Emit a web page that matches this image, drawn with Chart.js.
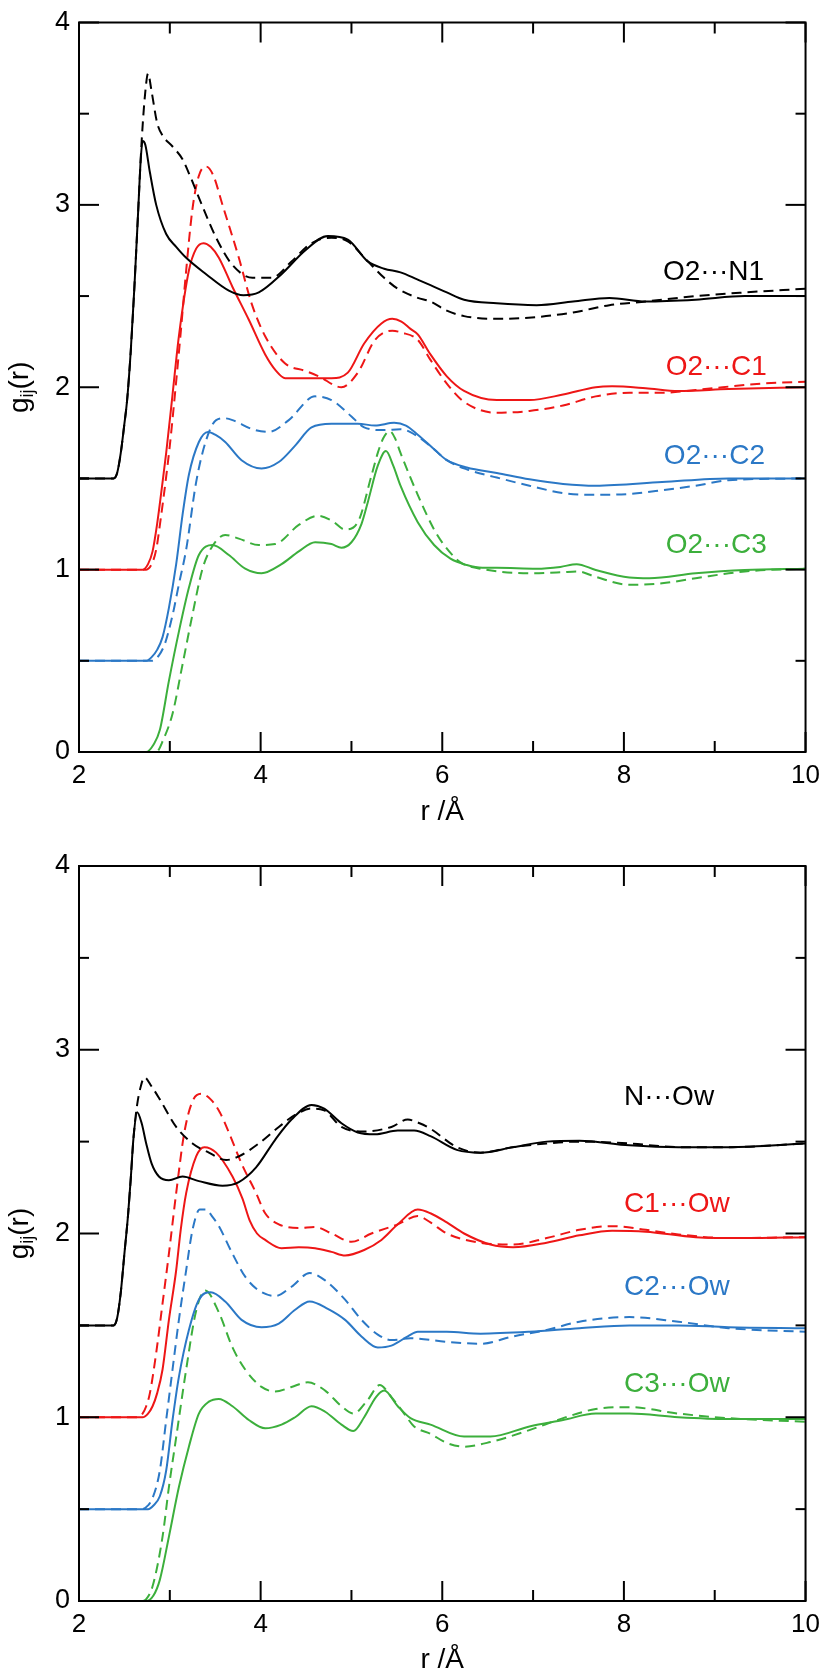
<!DOCTYPE html>
<html>
<head>
<meta charset="utf-8">
<script src="https://cdn.jsdelivr.net/npm/chart.js@4.4.0/dist/chart.umd.min.js"></script>
<style>
  body { margin: 0; background: #fff; }
  #topBox { position: absolute; left: 0; top: 0; width: 831px; height: 840px; }
  #bottomBox { position: absolute; left: 0; top: 840px; width: 831px; height: 839px; }
</style>
</head>
<body>
<div id="topBox"><canvas id="topChart"></canvas></div>
<div id="bottomBox"><canvas id="bottomChart"></canvas></div>
<script>
// tick values
const xMajor = [2, 4, 6, 8, 10];
const xMinor = [3, 5, 7, 9];
const yMajor = [0, 1, 2, 3, 4];
const yMinor = [0.5, 1.5, 2.5, 3.5];

// top panel, [r, g] pairs (curves already shifted)
const o2n1Solid = [[2.0,1.5],[2.38,1.5],[2.42,1.53],[2.46,1.64],[2.50,1.80],[2.53,1.93],[2.57,2.20],[2.61,2.55],[2.65,2.95],[2.68,3.25],[2.70,3.35],[2.73,3.33],[2.78,3.18],[2.85,3.00],[2.96,2.84],[3.07,2.77],[3.18,2.71],[3.40,2.62],[3.65,2.53],[3.81,2.505],[3.98,2.52],[4.23,2.62],[4.49,2.75],[4.74,2.83],[4.96,2.81],[5.18,2.69],[5.36,2.65],[5.54,2.63],[5.73,2.59],[5.87,2.56],[6.05,2.52],[6.24,2.48],[6.60,2.46],[7.04,2.45],[7.44,2.47],[7.84,2.49],[8.24,2.47],[8.79,2.48],[9.33,2.50],[10.0,2.50]];
const o2n1Dashed = [[2.0,1.5],[2.38,1.5],[2.42,1.53],[2.46,1.64],[2.50,1.80],[2.53,1.93],[2.57,2.20],[2.61,2.55],[2.65,2.95],[2.69,3.35],[2.73,3.62],[2.76,3.72],[2.80,3.62],[2.86,3.45],[2.92,3.38],[3.03,3.32],[3.14,3.25],[3.23,3.15],[3.32,3.04],[3.51,2.82],[3.69,2.67],[3.91,2.60],[4.12,2.60],[4.34,2.69],[4.56,2.79],[4.78,2.82],[4.96,2.80],[5.18,2.69],[5.36,2.60],[5.51,2.54],[5.73,2.49],[5.87,2.47],[6.05,2.42],[6.24,2.39],[6.60,2.375],[7.04,2.385],[7.44,2.41],[7.84,2.45],[8.24,2.47],[8.79,2.50],[9.33,2.52],[10.0,2.54]];
const o2c1Solid = [[2.0,1.0],[2.70,1.0],[2.76,1.03],[2.81,1.10],[2.86,1.25],[2.91,1.44],[2.96,1.64],[3.03,1.96],[3.10,2.28],[3.21,2.64],[3.29,2.76],[3.37,2.79],[3.45,2.77],[3.54,2.71],[3.69,2.55],[3.87,2.37],[4.05,2.18],[4.17,2.09],[4.27,2.05],[4.56,2.05],[4.78,2.05],[4.96,2.08],[5.14,2.24],[5.33,2.35],[5.45,2.375],[5.55,2.36],[5.65,2.32],[5.73,2.29],[5.87,2.18],[6.05,2.06],[6.24,1.98],[6.60,1.93],[6.96,1.93],[7.33,1.96],[7.69,2.00],[7.87,2.005],[8.24,1.995],[8.60,1.98],[9.15,1.99],[10.0,2.00]];
const o2c1Dashed = [[2.0,1.0],[2.74,1.0],[2.80,1.03],[2.85,1.11],[2.90,1.28],[2.95,1.47],[3.00,1.68],[3.06,1.98],[3.12,2.30],[3.18,2.64],[3.25,2.98],[3.32,3.16],[3.40,3.21],[3.48,3.16],[3.58,3.00],[3.76,2.71],[3.90,2.46],[4.05,2.28],[4.27,2.13],[4.49,2.09],[4.64,2.06],[4.89,2.00],[5.07,2.08],[5.26,2.26],[5.45,2.31],[5.55,2.30],[5.73,2.26],[5.87,2.15],[6.05,2.02],[6.24,1.92],[6.60,1.86],[6.96,1.87],[7.33,1.90],[7.69,1.95],[8.06,1.97],[8.42,1.97],[8.79,1.985],[9.51,2.02],[10.0,2.03]];
const o2c2Solid = [[2.0,0.5],[2.74,0.5],[2.80,0.52],[2.86,0.56],[2.92,0.63],[2.99,0.79],[3.07,1.03],[3.14,1.30],[3.21,1.52],[3.32,1.70],[3.42,1.755],[3.50,1.74],[3.61,1.70],[3.79,1.60],[4.01,1.555],[4.20,1.59],[4.38,1.68],[4.56,1.78],[4.78,1.80],[5.07,1.80],[5.26,1.79],[5.47,1.805],[5.60,1.79],[5.73,1.74],[5.91,1.66],[6.05,1.60],[6.27,1.56],[6.60,1.53],[6.96,1.495],[7.33,1.47],[7.69,1.46],[8.42,1.48],[9.15,1.50],[10.0,1.50]];
const o2c2Dashed = [[2.0,0.5],[2.80,0.5],[2.88,0.53],[2.95,0.60],[3.03,0.75],[3.10,0.92],[3.18,1.11],[3.29,1.48],[3.40,1.71],[3.51,1.82],[3.60,1.83],[3.69,1.82],[3.91,1.77],[4.09,1.755],[4.31,1.82],[4.60,1.95],[4.78,1.93],[5.00,1.84],[5.14,1.78],[5.36,1.765],[5.54,1.77],[5.73,1.73],[5.91,1.66],[6.05,1.60],[6.27,1.55],[6.60,1.505],[6.96,1.46],[7.33,1.42],[7.69,1.41],[8.06,1.415],[8.42,1.435],[8.79,1.46],[9.15,1.49],[10.0,1.50]];
const o2c3Solid = [[2.0,0.0],[2.74,0.0],[2.82,0.04],[2.89,0.12],[2.99,0.39],[3.10,0.66],[3.21,0.90],[3.32,1.08],[3.47,1.135],[3.65,1.08],[3.83,1.005],[4.01,0.98],[4.23,1.03],[4.42,1.10],[4.60,1.15],[4.78,1.14],[4.89,1.12],[5.00,1.15],[5.11,1.25],[5.18,1.37],[5.29,1.57],[5.38,1.65],[5.46,1.57],[5.54,1.46],[5.73,1.26],[5.91,1.135],[6.09,1.06],[6.27,1.025],[6.44,1.01],[6.60,1.01],[7.04,1.005],[7.30,1.015],[7.48,1.03],[7.69,0.998],[8.06,0.957],[8.28,0.953],[8.79,0.98],[9.33,0.998],[10.0,1.005]];
const o2c3Dashed = [[2.0,0.0],[2.85,0.0],[2.93,0.07],[3.03,0.21],[3.14,0.48],[3.25,0.755],[3.36,1.005],[3.47,1.13],[3.61,1.19],[3.76,1.17],[3.98,1.135],[4.16,1.14],[4.42,1.245],[4.63,1.295],[4.78,1.27],[4.93,1.22],[5.07,1.26],[5.22,1.515],[5.29,1.64],[5.35,1.72],[5.42,1.76],[5.48,1.72],[5.54,1.64],[5.73,1.41],[5.91,1.22],[6.02,1.135],[6.20,1.04],[6.42,1.005],[6.96,0.98],[7.30,0.985],[7.49,0.99],[7.69,0.96],[8.06,0.917],[8.42,0.925],[8.79,0.953],[9.33,0.99],[10.0,1.005]];

// bottom panel
const nOwSolid = [[2.0,1.5],[2.38,1.5],[2.42,1.54],[2.46,1.68],[2.50,1.89],[2.54,2.10],[2.57,2.30],[2.60,2.52],[2.64,2.66],[2.69,2.60],[2.74,2.49],[2.80,2.38],[2.88,2.31],[2.99,2.29],[3.14,2.31],[3.32,2.285],[3.58,2.26],[3.76,2.28],[3.95,2.36],[4.16,2.51],[4.34,2.62],[4.56,2.70],[4.70,2.68],[4.89,2.60],[5.07,2.55],[5.26,2.54],[5.51,2.56],[5.69,2.56],[5.87,2.53],[6.16,2.455],[6.42,2.44],[6.78,2.47],[7.15,2.50],[7.51,2.505],[8.06,2.48],[8.60,2.47],[9.15,2.47],[10.0,2.49]];
const nOwDashed = [[2.0,1.5],[2.38,1.5],[2.42,1.54],[2.46,1.68],[2.50,1.89],[2.54,2.10],[2.57,2.30],[2.60,2.52],[2.64,2.70],[2.68,2.80],[2.72,2.85],[2.80,2.80],[2.89,2.73],[3.07,2.58],[3.25,2.49],[3.43,2.44],[3.62,2.40],[3.76,2.42],[3.98,2.49],[4.20,2.58],[4.38,2.645],[4.56,2.68],[4.70,2.67],[4.89,2.58],[5.14,2.555],[5.44,2.58],[5.62,2.62],[5.75,2.60],[5.87,2.57],[6.16,2.47],[6.42,2.44],[6.78,2.47],[7.15,2.49],[7.51,2.50],[8.06,2.49],[8.60,2.47],[9.15,2.47],[10.0,2.49]];
const c1OwSolid = [[2.0,1.0],[2.70,1.0],[2.76,1.02],[2.81,1.06],[2.86,1.13],[2.92,1.26],[2.99,1.53],[3.07,1.80],[3.12,2.02],[3.18,2.22],[3.29,2.42],[3.38,2.47],[3.51,2.44],[3.69,2.31],[3.80,2.19],[3.88,2.07],[3.96,2.00],[4.05,1.965],[4.23,1.92],[4.42,1.925],[4.60,1.92],[4.78,1.90],[4.93,1.88],[5.14,1.91],[5.33,1.965],[5.51,2.05],[5.73,2.13],[5.87,2.11],[6.05,2.06],[6.24,2.00],[6.53,1.94],[6.78,1.925],[7.15,1.95],[7.51,1.99],[7.87,2.015],[8.24,2.01],[8.79,1.98],[9.33,1.975],[10.0,1.98]];
const c1OwDashed = [[2.0,1.0],[2.64,1.0],[2.70,1.02],[2.74,1.06],[2.78,1.13],[2.85,1.35],[2.92,1.62],[2.99,1.89],[3.07,2.22],[3.16,2.55],[3.25,2.72],[3.35,2.76],[3.45,2.73],[3.55,2.66],[3.65,2.55],[3.79,2.38],[3.95,2.22],[4.05,2.11],[4.20,2.05],[4.42,2.03],[4.60,2.035],[4.78,2.00],[5.00,1.955],[5.22,2.00],[5.51,2.05],[5.73,2.095],[5.87,2.06],[6.05,2.00],[6.42,1.95],[6.78,1.94],[7.15,1.975],[7.51,2.02],[7.87,2.04],[8.24,2.02],[8.60,1.995],[9.15,1.975],[10.0,1.98]];
const c2OwSolid = [[2.0,0.5],[2.76,0.5],[2.82,0.52],[2.89,0.57],[2.96,0.71],[3.03,0.985],[3.10,1.22],[3.21,1.475],[3.32,1.64],[3.45,1.68],[3.61,1.63],[3.79,1.53],[4.01,1.49],[4.20,1.51],[4.38,1.585],[4.54,1.63],[4.74,1.59],[4.93,1.53],[5.11,1.44],[5.29,1.38],[5.44,1.39],[5.62,1.44],[5.73,1.465],[6.05,1.465],[6.42,1.455],[6.96,1.465],[7.51,1.485],[8.06,1.50],[8.60,1.50],[9.15,1.49],[10.0,1.485]];
const c2OwDashed = [[2.0,0.5],[2.70,0.5],[2.76,0.52],[2.81,0.56],[2.89,0.71],[2.96,0.985],[3.03,1.26],[3.10,1.53],[3.18,1.80],[3.25,2.02],[3.33,2.13],[3.40,2.13],[3.47,2.09],[3.54,2.04],[3.69,1.89],[3.83,1.765],[3.98,1.69],[4.16,1.66],[4.34,1.71],[4.54,1.785],[4.71,1.745],[4.93,1.64],[5.11,1.53],[5.29,1.45],[5.44,1.42],[5.65,1.43],[6.05,1.41],[6.42,1.40],[6.78,1.44],[7.15,1.475],[7.51,1.52],[8.06,1.545],[8.60,1.52],[9.15,1.485],[10.0,1.465]];
const c3OwSolid = [[2.0,0.0],[2.74,0.0],[2.82,0.03],[2.89,0.115],[2.99,0.35],[3.10,0.62],[3.21,0.84],[3.32,1.02],[3.43,1.085],[3.54,1.10],[3.69,1.06],[3.87,0.985],[4.05,0.94],[4.23,0.96],[4.38,1.00],[4.56,1.06],[4.71,1.03],[4.89,0.96],[5.02,0.925],[5.14,1.00],[5.27,1.11],[5.36,1.145],[5.51,1.06],[5.65,0.995],[5.87,0.96],[6.24,0.895],[6.53,0.895],[6.96,0.95],[7.33,0.985],[7.69,1.02],[8.06,1.02],[8.60,1.00],[9.15,0.99],[10.0,0.99]];
const c3OwDashed = [[2.0,0.0],[2.70,0.0],[2.74,0.01],[2.81,0.08],[2.92,0.35],[2.99,0.62],[3.07,0.89],[3.18,1.26],[3.29,1.58],[3.39,1.69],[3.54,1.57],[3.69,1.38],[3.83,1.26],[4.01,1.165],[4.16,1.14],[4.34,1.165],[4.52,1.19],[4.71,1.145],[4.89,1.06],[5.02,1.02],[5.18,1.095],[5.31,1.175],[5.44,1.11],[5.58,1.02],[5.69,0.95],[5.87,0.91],[6.05,0.86],[6.24,0.84],[6.53,0.865],[6.96,0.93],[7.33,0.995],[7.69,1.045],[8.06,1.055],[8.60,1.02],[9.15,0.995],[10.0,0.975]];

// pair names
const topNames = ['O2\u00b7\u00b7\u00b7N1', 'O2\u00b7\u00b7\u00b7C1', 'O2\u00b7\u00b7\u00b7C2', 'O2\u00b7\u00b7\u00b7C3'];
const bottomNames = ['N\u00b7\u00b7\u00b7Ow', 'C1\u00b7\u00b7\u00b7Ow', 'C2\u00b7\u00b7\u00b7Ow', 'C3\u00b7\u00b7\u00b7Ow'];

// where the names sit (data coords, left edge / middle)
const topNamePos = [[8.43, 2.63], [8.46, 2.11], [8.44, 1.62], [8.46, 1.136]];
const bottomNamePos = [[8.0, 2.74], [8.0, 2.16], [8.0, 1.71], [8.0, 1.18]];

const colors = ['#000000', '#ee1616', '#2b78c6', '#3caf3c'];
const FONT = '"Liberation Sans", Arial, Helvetica, sans-serif';

function line(pairs, color, dashed) {
  return {
    data: pairs.map(p => ({ x: p[0], y: p[1] })),
    borderColor: color,
    borderWidth: 2,
    borderDash: dashed ? [10, 6] : [],
    pointRadius: 0,
    fill: false,
    cubicInterpolationMode: 'monotone'
  };
}

// frame, inward ticks, pair names and y title
const frameMarks = {
  id: 'frameMarks',
  afterDatasetsDraw(chart, args, opts) {
    const { ctx, chartArea: a, scales: { x, y } } = chart;
    ctx.save();
    ctx.strokeStyle = '#000';
    ctx.lineWidth = 2;
    ctx.strokeRect(a.left, a.top, a.right - a.left, a.bottom - a.top);

    const seg = (x1, y1, x2, y2) => {
      ctx.beginPath(); ctx.moveTo(x1, y1); ctx.lineTo(x2, y2); ctx.stroke();
    };
    const xTicks = (vals, len) => vals.forEach(v => {
      const px = x.getPixelForValue(v);
      seg(px, a.bottom, px, a.bottom - len);
      seg(px, a.top, px, a.top + len);
    });
    const yTicks = (vals, len) => vals.forEach(v => {
      const py = y.getPixelForValue(v);
      seg(a.left, py, a.left + len, py);
      seg(a.right, py, a.right - len, py);
    });
    xTicks(xMajor, 20); xTicks(xMinor, 11);
    yTicks(yMajor, 20); yTicks(yMinor, 10);

    ctx.font = '28px ' + FONT;
    ctx.textBaseline = 'middle';
    ctx.textAlign = 'left';
    opts.names.forEach((t, i) => {
      ctx.fillStyle = colors[i];
      ctx.fillText(t, x.getPixelForValue(opts.pos[i][0]), y.getPixelForValue(opts.pos[i][1]));
    });

    // y title g_ij(r)
    ctx.fillStyle = '#000';
    ctx.translate(a.left - 59, (a.top + a.bottom) / 2);
    ctx.rotate(-Math.PI / 2);
    const big = '28px ' + FONT, small = '18px ' + FONT;
    ctx.font = big; const wg = ctx.measureText('g').width; const wr = ctx.measureText('(r)').width;
    ctx.font = small; const wij = ctx.measureText('ij').width;
    let cx = -(wg + wij + wr) / 2;
    ctx.textAlign = 'left';
    ctx.font = big; ctx.fillText('g', cx, 0); cx += wg;
    ctx.font = small; ctx.fillText('ij', cx, 8); cx += wij;
    ctx.font = big; ctx.fillText('(r)', cx, 0);
    ctx.restore();
  }
};

function makeChart(id, datasets, names, pos, padTop, axisHeight, titleBottom) {
  return new Chart(document.getElementById(id), {
    type: 'line',
    data: { datasets },
    options: {
      responsive: true,
      maintainAspectRatio: false,
      animation: false,
      layout: { padding: { top: padTop, right: 20, left: 0, bottom: 0 } },
      plugins: {
        legend: { display: false },
        tooltip: { enabled: false },
        frameMarks: { names, pos }
      },
      scales: {
        x: {
          type: 'linear', min: 2, max: 10,
          afterBuildTicks: s => { s.ticks = xMajor.map(v => ({ value: v })); },
          ticks: { color: '#000', padding: 11, font: { family: FONT, size: 26, lineHeight: 1 } },
          grid: { display: false, drawTicks: false },
          border: { display: false },
          title: { display: true, text: 'r /\u00c5', color: '#000', font: { family: FONT, size: 28 }, padding: { top: 0, bottom: titleBottom } },
          afterFit: s => { s.height = axisHeight; }
        },
        y: {
          type: 'linear', min: 0, max: 4,
          afterBuildTicks: s => { s.ticks = yMajor.map(v => ({ value: v })); },
          ticks: { color: '#000', padding: 9, font: { family: FONT, size: 27, lineHeight: 1 } },
          grid: { display: false, drawTicks: false },
          border: { display: false },
          afterFit: s => { s.width = 79; }
        }
      }
    },
    plugins: [frameMarks]
  });
}

makeChart('topChart', [
  line(o2n1Solid, colors[0], false), line(o2n1Dashed, colors[0], true),
  line(o2c1Solid, colors[1], false), line(o2c1Dashed, colors[1], true),
  line(o2c2Solid, colors[2], false), line(o2c2Dashed, colors[2], true),
  line(o2c3Solid, colors[3], false), line(o2c3Dashed, colors[3], true)
], topNames, topNamePos, 15, 88, 11);

makeChart('bottomChart', [
  line(nOwSolid, colors[0], false), line(nOwDashed, colors[0], true),
  line(c1OwSolid, colors[1], false), line(c1OwDashed, colors[1], true),
  line(c2OwSolid, colors[2], false), line(c2OwDashed, colors[2], true),
  line(c3OwSolid, colors[3], false), line(c3OwDashed, colors[3], true)
], bottomNames, bottomNamePos, 26, 78, 2);
</script>
</body>
</html>
